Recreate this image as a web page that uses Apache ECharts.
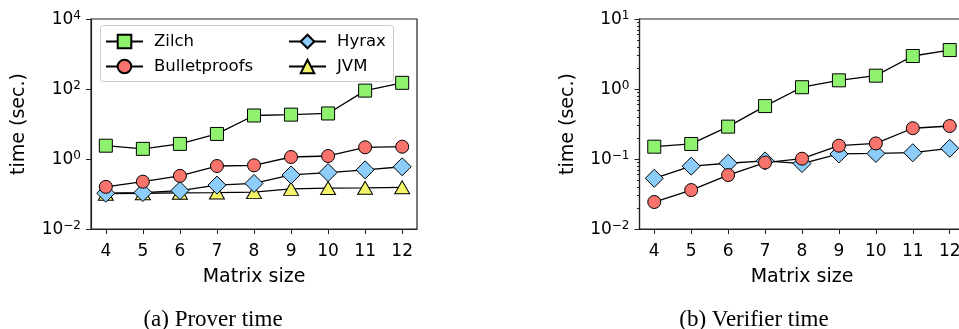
<!DOCTYPE html>
<html>
<head>
<meta charset="utf-8">
<script src="https://cdn.jsdelivr.net/npm/echarts@6/dist/echarts.min.js"></script>
<style>
html, body { margin: 0; padding: 0; background: #fff; }
#chart { width: 959px; height: 329px; }
</style>
</head>
<body>
<div id="chart"></div>
<script>
// matrix sizes on the x axis
var sizes = [4, 5, 6, 7, 8, 9, 10, 11, 12];

// (a) prover time, seconds
var proverZilch = [2.4, 1.95, 2.7, 5.2, 17.5, 18.5, 20, 90, 150];
var proverBulletproofs = [0.16, 0.225, 0.33, 0.63, 0.66, 1.14, 1.22, 2.16, 2.25];
var proverHyrax = [0.105, 0.11, 0.125, 0.18, 0.2, 0.35, 0.41, 0.49, 0.6];
var proverJVM = [0.102, 0.105, 0.108, 0.11, 0.113, 0.14, 0.148, 0.15, 0.155];

// (b) verifier time, seconds
var verifierZilch = [0.15, 0.164, 0.29, 0.57, 1.06, 1.33, 1.55, 2.96, 3.6];
var verifierBulletproofs = [0.0243, 0.036, 0.059, 0.089, 0.101, 0.155, 0.167, 0.275, 0.296];
var verifierHyrax = [0.053, 0.079, 0.087, 0.094, 0.086, 0.118, 0.12, 0.123, 0.142];

// minor log ticks on the verifier axis
var minorTicks = [0.02, 0.03, 0.04, 0.05, 0.06, 0.07, 0.08, 0.09,
                  0.2, 0.3, 0.4, 0.5, 0.6, 0.7, 0.8, 0.9,
                  2, 3, 4, 5, 6, 7, 8, 9];

var FONT = '"DejaVu Sans", sans-serif';

function pts(vals) {
  return sizes.map(function (s, i) { return [s, vals[i]]; });
}

function mk(name, vals, symbol, size, color, gi) {
  return {
    name: name,
    type: 'line',
    xAxisIndex: gi,
    yAxisIndex: gi,
    data: pts(vals),
    symbol: symbol,
    symbolSize: size,
    lineStyle: { color: '#000', width: 1.3 },
    itemStyle: { color: color, borderColor: '#000', borderWidth: 1 },
    emphasis: { disabled: true }
  };
}

function powLabel(v) {
  var e = Math.round(Math.log10(v));
  return '{b|10}{e|' + (e < 0 ? '\u2212' + (-e) : e) + '}';
}

function xAxis(gi) {
  return {
    type: 'value', gridIndex: gi, min: 3.6, max: 12.4,
    name: 'Matrix size', nameLocation: 'middle', nameGap: 39,
    nameTextStyle: { fontFamily: FONT, fontSize: 19, color: '#000' },
    axisLine: { onZero: false, lineStyle: { color: '#222', width: 1.2 } },
    axisTick: { customValues: sizes, length: 5, lineStyle: { color: '#222' } },
    axisLabel: { customValues: sizes, margin: 14, fontFamily: FONT, fontSize: 17, color: '#000' },
    splitLine: { show: false }
  };
}

// interval is in decades (log space); min is a multiple of it
function yAxis(gi, min, max, step) {
  return {
    type: 'log', logBase: 10, gridIndex: gi, min: min, max: max, interval: step,
    name: 'time (sec.)', nameLocation: 'middle', nameGap: 62,
    nameTextStyle: { fontFamily: FONT, fontSize: 19, color: '#000' },
    axisLine: { show: true, onZero: false, lineStyle: { color: '#222', width: 1.2 } },
    axisTick: { show: true, length: 5, lineStyle: { color: '#222' } },
    axisLabel: {
      margin: 10,
      formatter: powLabel,
      rich: {
        b: { fontFamily: FONT, fontSize: 17, color: '#000', verticalAlign: 'bottom', lineHeight: 19 },
        e: { fontFamily: FONT, fontSize: 12, color: '#000', verticalAlign: 'top', lineHeight: 14 }
      }
    },
    splitLine: { show: false }
  };
}

var chart = echarts.init(document.getElementById('chart'));

var option = {
  animation: false,
  backgroundColor: '#fff',
  grid: [
    { left: 91, top: 19, width: 326, height: 210, outerBoundsMode: 'none',
      show: true, borderColor: '#222', borderWidth: 1.2 },
    // the verifier panel runs past the right edge of the picture
    { left: 639.5, top: 19, width: 325, height: 210, outerBoundsMode: 'none',
      show: true, borderColor: '#222', borderWidth: 1.2 }
  ],
  xAxis: [xAxis(0), xAxis(1)],
  yAxis: [
    yAxis(0, 0.01, 10000, 2),
    yAxis(1, 0.01, 10, 1),
    {
      type: 'value', gridIndex: 1, position: 'left', offset: 0, min: -2, max: 1,
      axisLine: { show: false, onZero: false },
      axisLabel: { show: false },
      splitLine: { show: false },
      axisTick: {
        show: true, length: 2.5, lineStyle: { color: '#222' },
        customValues: minorTicks.map(function (v) { return Math.log10(v); })
      }
    }
  ],
  legend: [
    {
      data: ['Zilch', 'Bulletproofs'], orient: 'vertical', left: 105, top: 33,
      itemWidth: 37, itemHeight: 17, itemGap: 8, padding: 0, selectedMode: false,
      textStyle: { fontFamily: FONT, fontSize: 16.5, color: '#000', padding: [0, 0, 0, 6] }
    },
    {
      data: ['Hyrax', 'JVM'], orient: 'vertical', left: 288, top: 33,
      itemWidth: 37, itemHeight: 17, itemGap: 8, padding: 0, selectedMode: false,
      textStyle: { fontFamily: FONT, fontSize: 16.5, color: '#000', padding: [0, 0, 0, 6] }
    }
  ],
  graphic: [
    {
      type: 'rect', z: 3,
      shape: { x: 100.5, y: 25.5, width: 293, height: 56, r: 3 },
      style: { fill: 'rgba(255,255,255,0.85)', stroke: '#cccccc', lineWidth: 1 }
    },
    {
      type: 'text', x: 213, y: 320,
      style: { text: '(a) Prover time', fontFamily: '"Liberation Serif", serif', fontSize: 23, fill: '#000', align: 'center', verticalAlign: 'middle' }
    },
    {
      type: 'text', x: 754, y: 320,
      style: { text: '(b) Verifier time', fontFamily: '"Liberation Serif", serif', fontSize: 23, fill: '#000', align: 'center', verticalAlign: 'middle' }
    }
  ],
  series: [
    mk('JVM', proverJVM, 'triangle', [15, 13], '#f5f56b', 0),
    mk('Hyrax', proverHyrax, 'diamond', 18, '#8dcdfb', 0),
    mk('Bulletproofs', proverBulletproofs, 'circle', 13, '#f8736b', 0),
    mk('Zilch', proverZilch, 'rect', 13, '#8ff26f', 0),
    mk('Hyrax', verifierHyrax, 'diamond', 18, '#8dcdfb', 1),
    mk('Bulletproofs', verifierBulletproofs, 'circle', 13, '#f8736b', 1),
    mk('Zilch', verifierZilch, 'rect', 13, '#8ff26f', 1)
  ]
};

chart.setOption(option);
</script>
</body>
</html>
